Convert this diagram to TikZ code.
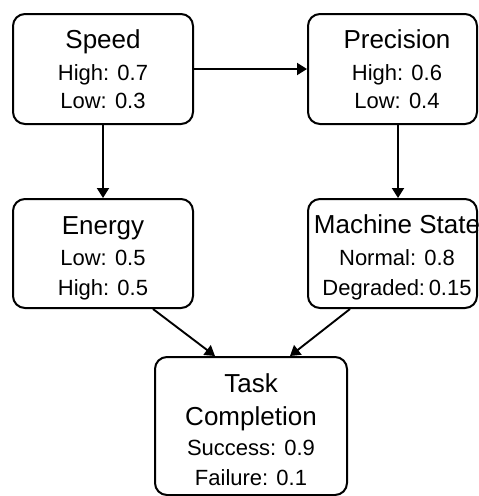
\documentclass[tikz,border=0pt]{standalone}
\usepackage{fontspec}
\setmainfont{Liberation Sans}
\usetikzlibrary{arrows.meta}
\begin{document}
\begin{tikzpicture}[x=1pt,y=-1pt,
  box/.style={draw, line width=2pt, rounded corners=12pt, inner sep=0pt},
  ttl/.style={anchor=base, inner sep=0pt, font=\fontsize{26}{30}\selectfont},
  val/.style={anchor=base, inner sep=0pt, font=\fontsize{22}{26}\selectfont},
  arr/.style={line width=1.9pt, -{Triangle[length=10pt,width=12pt]}}]
\useasboundingbox (0,0) rectangle (479,496);
% boxes
\node[box, minimum width=180pt, minimum height=110pt] (speed) at (103,69) {};
\node[box, minimum width=169pt, minimum height=110pt] (prec) at (392.5,69) {};
\node[box, minimum width=180pt, minimum height=109pt] (energy) at (103,253.5) {};
\node[box, minimum width=169pt, minimum height=109pt] (mach) at (392.5,253.5) {};
\node[box, minimum width=192pt, minimum height=138pt] (task) at (251,426) {};
% texts
\node[ttl] (speedT) at (103,48) {Speed};
\node[val] (speedA) at (103,80) {High: 0.7};
\node[val] (speedB) at (103,108) {Low: 0.3};
\node[ttl] (precT) at (397,48) {Precision};
\node[val] (precA) at (397,80) {High: 0.6};
\node[val] (precB) at (397,108) {Low: 0.4};
\node[ttl] (energyT) at (103,234) {Energy};
\node[val] (energyA) at (103,265) {Low: 0.5};
\node[val] (energyB) at (103,295) {High: 0.5};
\node[ttl] (machT) at (397,233) {Machine State};
\node[val] (machA) at (397,265) {Normal: 0.8};
\node[val] (machB) at (397,295) {Degraded:\,0.15};
\node[ttl] (taskT) at (251,392) {Task};
\node[ttl] (taskC) at (251,425) {Completion};
\node[val] (taskA) at (251,455) {Success: 0.9};
\node[val] (taskB) at (251,485) {Failure: 0.1};
% arrows
\draw[arr] (speed.east) -- (prec.west);
\draw[arr] (speed.south) -- (energy.north);
\draw[arr] ([xshift=5.5pt]prec.south) -- ([xshift=5.5pt]mach.north);
\draw[arr] ([xshift=50pt]energy.south) -- ([xshift=-36pt]task.north);
\draw[arr] ([xshift=-42.5pt]mach.south) -- ([xshift=39pt]task.north);
\end{tikzpicture}
\end{document}
